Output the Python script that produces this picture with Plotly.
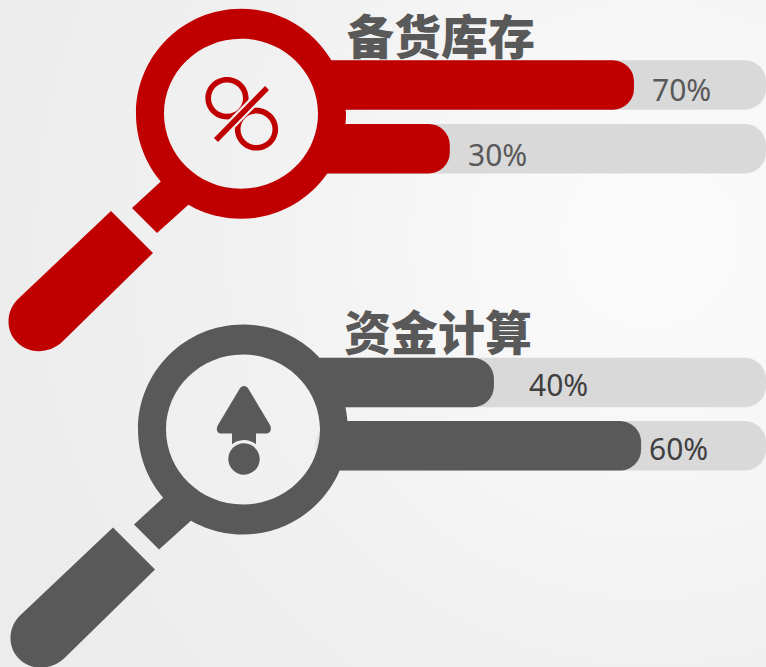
import base64
import plotly.graph_objects as go

# ---------- data ----------
group_titles = ["备货库存", "资金计算"]
bar_labels = ["70%", "30%", "40%", "60%"]
bar_fill = [70.4, 29.1, 39.0, 72.0]      # drawn length, % of the track
track_full = [100, 100, 100, 100]

# ---------- layout constants (pixel space of the 766x667 page) ----------
W, H = 766, 667
TRACK_X0, TRACK_X1 = 320.0, 766.0
PX_PER_UNIT = (TRACK_X1 - TRACK_X0) / 100.0
bar_rows = [85, 148.7, 382.5, 445.8]
bar_h = 49.4
RADIUS = 21
RED, GREY, TRACK = "#c00000", "#595959", "#d9d9d9"
BG = "#f1f1f1"


def X(px):
    return (px - TRACK_X0) / PX_PER_UNIT


def pt(x, y, dx=0, dy=0):
    return f"{X(x + dx):.3f},{y + dy:.3f}"


def ellipse_path(cx, cy, rx, ry):
    k = 0.5523
    return (
        f"M{pt(cx - rx, cy)} "
        f"C{pt(cx - rx, cy - k * ry)} {pt(cx - k * rx, cy - ry)} {pt(cx, cy - ry)} "
        f"C{pt(cx + k * rx, cy - ry)} {pt(cx + rx, cy - k * ry)} {pt(cx + rx, cy)} "
        f"C{pt(cx + rx, cy + k * ry)} {pt(cx + k * rx, cy + ry)} {pt(cx, cy + ry)} "
        f"C{pt(cx - k * rx, cy + ry)} {pt(cx - rx, cy + k * ry)} {pt(cx - rx, cy)} Z"
    )


def fill_shape(path, color, **kw):
    return dict(type="path", xref="x", yref="y", path=path, fillcolor=color,
                line=dict(width=0), layer="above", **kw)


def magnifier(cx, cy, dx, dy, color):
    shapes = []
    ring = ellipse_path(cx, cy, 105, 105) + " " + ellipse_path(cx, cy, 77, 75)
    shapes.append(fill_shape(ring, color, fillrule="evenodd"))
    neck = (f"M{pt(169, 174, dx, dy)} L{pt(132, 208, dx, dy)} L{pt(157, 233, dx, dy)} "
            f"L{pt(197, 197, dx, dy)} Z")
    shapes.append(fill_shape(neck, color))
    grip = (f"M{pt(111, 211, dx, dy)} L{pt(153, 253, dx, dy)} L{pt(62, 342, dx, dy)} "
            f"C{pt(48, 355, dx, dy)} {pt(26, 354, dx, dy)} {pt(15, 340, dx, dy)} "
            f"C{pt(6, 329, dx, dy)} {pt(6, 312, dx, dy)} {pt(17, 300, dx, dy)} Z")
    shapes.append(fill_shape(grip, color))
    return shapes


shapes = []
# faint crescent inside the grey lens
shapes.append(fill_shape(f"M{pt(321, 430)} C{pt(316, 436)} {pt(314, 444)} {pt(316, 453)} L{pt(322, 453)} Z", "#e3e3e3"))
shapes += magnifier(241, 113.7, 0, 0, RED)
shapes += magnifier(243, 429.5, 2, 316.5, GREY)

# percent icon
shapes.append(fill_shape(ellipse_path(227, 98.2, 21.6, 21.2) + " " + ellipse_path(227, 98.2, 16.0, 15.6), RED, fillrule="evenodd"))
shapes.append(fill_shape(ellipse_path(256.5, 129.2, 21.6, 21.4) + " " + ellipse_path(256.5, 129.2, 16.0, 15.8), RED, fillrule="evenodd"))
shapes.append(dict(type="line", xref="x", yref="y", x0=X(268), y0=87, x1=X(215), y1=141,
                   line=dict(color=BG, width=10), layer="above"))
shapes.append(fill_shape(f"M{pt(265, 86)} L{pt(269, 90)} L{pt(218, 142)} L{pt(214, 138)} Z", RED))

# arrow icon
stem = f"M{pt(232, 425)} L{pt(256, 425)} L{pt(256, 450)} L{pt(232, 450)} Z"
shapes.append(fill_shape(stem, GREY))
arrow = (f"M{pt(239.5, 389)} C{pt(241.5, 385)} {pt(246.5, 385)} {pt(248.5, 389)} "
         f"L{pt(270, 425)} C{pt(272, 429)} {pt(270.5, 433.5)} {pt(266, 433.5)} "
         f"L{pt(221, 433.5)} C{pt(217, 433.5)} {pt(215.5, 429)} {pt(218, 425)} Z")
shapes.append(fill_shape(arrow, GREY))
shapes.append(fill_shape(ellipse_path(244, 459, 19, 19), BG))
shapes.append(fill_shape(ellipse_path(244, 459, 15.7, 15.7), GREY))

# ---------- background ----------
svg = f"""<svg xmlns='http://www.w3.org/2000/svg' width='{W}' height='{H}'>
<defs><radialGradient id='g' gradientUnits='userSpaceOnUse' cx='650' cy='240' r='680'>
<stop offset='0' stop-color='#fbfbfb'/><stop offset='0.25' stop-color='#f8f8f8'/>
<stop offset='0.6' stop-color='#f1f1f1'/><stop offset='1' stop-color='#ececec'/>
</radialGradient></defs><rect width='{W}' height='{H}' fill='url(#g)'/></svg>"""
bg_uri = "data:image/svg+xml;base64," + base64.b64encode(svg.encode()).decode()

# ---------- figure ----------
fig = go.Figure()
fig.add_bar(y=bar_rows, x=track_full, orientation="h", width=bar_h,
            marker=dict(color=TRACK, line=dict(width=0), cornerradius=RADIUS),
            hoverinfo="skip", name="track")
fig.add_bar(y=bar_rows[:2], x=bar_fill[:2], orientation="h", width=bar_h, yaxis="y2",
            marker=dict(color=RED, line=dict(width=0), cornerradius=RADIUS), name=group_titles[0])
fig.add_bar(y=bar_rows[2:], x=bar_fill[2:], orientation="h", width=bar_h, yaxis="y2",
            marker=dict(color=GREY, line=dict(width=0), cornerradius=RADIUS), name=group_titles[1])

anns = []
for text, x, y in zip(group_titles, [441, 437.5], [33, 329]):
    anns.append(dict(x=X(x), y=y, xref="x", yref="y", text=text, showarrow=False,
                     font=dict(family="Noto Sans CJK SC", size=47, color=GREY, weight=900)))
label_x = [681.5, 497.5, 558, 678]
label_y = [89, 154, 384, 448]
label_c = ["#595959", "#595959", "#404040", "#404040"]
for text, x, y, c in zip(bar_labels, label_x, label_y, label_c):
    anns.append(dict(x=X(x), y=y, xref="x", yref="y", text=text, showarrow=False,
                     font=dict(family="Noto Sans", size=30, color=c)))

fig.update_layout(
    width=W, height=H, margin=dict(l=0, r=0, t=0, b=0, pad=0),
    autosize=False, showlegend=False, barmode="overlay", barcornerradius=RADIUS,
    paper_bgcolor=BG, plot_bgcolor="rgba(0,0,0,0)",
    xaxis=dict(range=[X(0), X(W)], visible=False, fixedrange=True),
    yaxis=dict(range=[H, 0], visible=False, fixedrange=True),
    yaxis2=dict(range=[H, 0], visible=False, fixedrange=True, overlaying="y"),
    shapes=shapes, annotations=anns,
    images=[dict(source=bg_uri, xref="paper", yref="paper", x=0, y=1, sizex=1, sizey=1,
                 sizing="stretch", xanchor="left", yanchor="top", layer="below")],
)
fig.write_html("out.html", config=dict(displayModeBar=False),
               post_script="document.documentElement.style.overflow='hidden';document.body.style.margin='0';")
